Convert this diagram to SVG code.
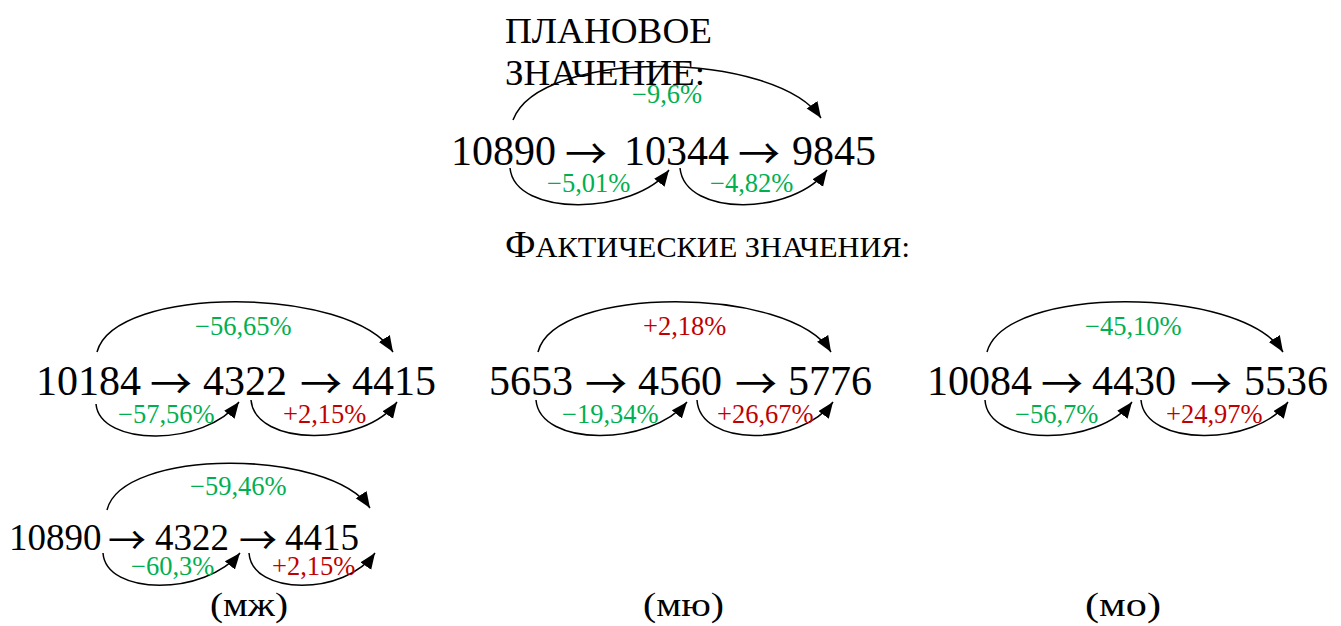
<svg xmlns="http://www.w3.org/2000/svg" width="1341" height="626" viewBox="0 0 1341 626">
<style>
text{font-family:"Liberation Serif","Times New Roman",serif;fill:#000}
.n{font-size:42px}
.n4{font-size:37px}
.a{font-family:"Noto Sans CJK JP","DejaVu Serif",serif;font-size:42px}
.a4{font-family:"Noto Sans CJK JP","DejaVu Serif",serif;font-size:38px}
.p{font-size:26.5px}
.g{fill:#00b050}
.r{fill:#c00000}
.h{font-size:36px}
.c{fill:none;stroke:#000;stroke-width:1.5;marker-end:url(#ah)}
</style>
<defs>
<marker id="ah" markerUnits="userSpaceOnUse" markerWidth="18" markerHeight="14" refX="16" refY="6.5" orient="auto" viewBox="0 0 18 14">
<path d="M0,0 L16,6.5 L0,13 z" fill="#000"/>
</marker>
</defs>
<g id="connectors">
<path class="c" d="M513,120 C540,48 775,50 821,118"/>
<path class="c" d="M510,168 C515,218 635,215 669,170"/>
<path class="c" d="M680,168 C685,218 795,215 827,170"/>
<path class="c" d="M97,352 C115,285 350,285 393,352"/>
<path class="c" d="M96,404 C100,447 205,447 239,402"/>
<path class="c" d="M251,400 C255,447 365,447 397,402"/>
<path class="c" d="M538,352 C555,285 790,285 831,352"/>
<path class="c" d="M536,400 C540,447 650,447 687,402"/>
<path class="c" d="M697,400 C700,447 800,447 833,402"/>
<path class="c" d="M987,352 C1005,285 1240,285 1283,352"/>
<path class="c" d="M985,400 C988,447 1098,447 1132,402"/>
<path class="c" d="M1141,400 C1145,447 1255,447 1288,402"/>
<path class="c" d="M107,510 C122,448 330,448 370,508"/>
<path class="c" d="M103,553 C106,596 205,596 240,553"/>
<path class="c" d="M249,553 C252,596 345,596 375,553"/>
</g>
<g id="plan-title">
<text class="h" x="505" y="43" textLength="207" lengthAdjust="spacingAndGlyphs">ПЛАНОВОЕ</text>
<text class="h" x="505" y="85" textLength="200" lengthAdjust="spacingAndGlyphs">ЗНАЧЕНИЕ:</text>
</g>
<g id="plan-chain">
<text class="n" x="451" y="165">10890</text>
<text class="a" x="565" y="169">→</text>
<text class="n" x="624" y="165">10344</text>
<text class="a" x="738" y="169">→</text>
<text class="n" x="792" y="165">9845</text>
<text class="p g" x="632" y="103">−9,6%</text>
<text class="p g" x="547" y="192">−5,01%</text>
<text class="p g" x="710" y="192">−4,82%</text>
</g>
<g id="fact-title">
<text x="505" y="257" textLength="405" lengthAdjust="spacingAndGlyphs"><tspan font-size="37">Ф</tspan><tspan font-size="29">АКТИЧЕСКИЕ ЗНАЧЕНИЯ:</tspan></text>
</g>
<g id="chain-mzh-1">
<text class="n" x="36" y="395">10184</text>
<text class="a" x="150" y="399">→</text>
<text class="n" x="203" y="395">4322</text>
<text class="a" x="300" y="399">→</text>
<text class="n" x="352" y="395">4415</text>
<text class="p g" x="195" y="335">−56,65%</text>
<text class="p g" x="118" y="423">−57,56%</text>
<text class="p r" x="283" y="423">+2,15%</text>
</g>
<g id="chain-myu">
<text class="n" x="489" y="395">5653</text>
<text class="a" x="585" y="399">→</text>
<text class="n" x="638" y="395">4560</text>
<text class="a" x="735" y="399">→</text>
<text class="n" x="788" y="395">5776</text>
<text class="p r" x="643" y="335">+2,18%</text>
<text class="p g" x="562" y="423">−19,34%</text>
<text class="p r" x="717" y="423">+26,67%</text>
</g>
<g id="chain-mo">
<text class="n" x="927" y="395">10084</text>
<text class="a" x="1041" y="399">→</text>
<text class="n" x="1092" y="395">4430</text>
<text class="a" x="1190" y="399">→</text>
<text class="n" x="1244" y="395">5536</text>
<text class="p g" x="1085" y="335">−45,10%</text>
<text class="p g" x="1015" y="423">−56,7%</text>
<text class="p r" x="1166" y="423">+24,97%</text>
</g>
<g id="chain-mzh-2">
<text class="n4" x="9" y="550">10890</text>
<text class="a4" x="108" y="554">→</text>
<text class="n4" x="155" y="550">4322</text>
<text class="a4" x="239" y="554">→</text>
<text class="n4" x="285" y="550">4415</text>
<text class="p g" x="190" y="495">−59,46%</text>
<text class="p g" x="131" y="575">−60,3%</text>
<text class="p r" x="272" y="575">+2,15%</text>
</g>
<g id="labels">
<text x="210" y="616" font-size="33" textLength="78" lengthAdjust="spacingAndGlyphs">(мж)</text>
<text x="643" y="616" font-size="33" textLength="81" lengthAdjust="spacingAndGlyphs">(мю)</text>
<text x="1085" y="616" font-size="33" textLength="76" lengthAdjust="spacingAndGlyphs">(мо)</text>
</g>
</svg>
